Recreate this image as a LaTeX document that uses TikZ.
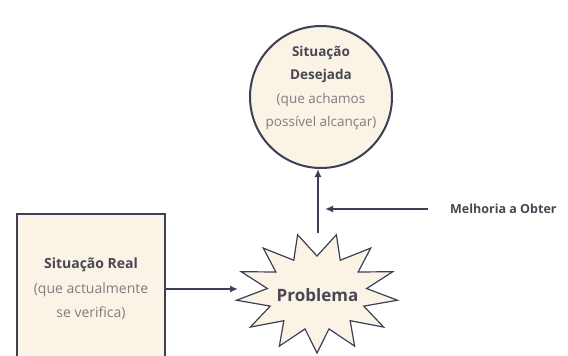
\documentclass[tikz,border=0pt]{standalone}
\usepackage{fontspec}
\setmainfont{Open Sans}
\usetikzlibrary{arrows.meta}
\definecolor{cream}{RGB}{250,243,230}
\definecolor{edge}{RGB}{60,64,84}
\definecolor{ink}{RGB}{72,72,84}
\definecolor{soft}{RGB}{128,124,128}
\tikzset{
  goalnode/.style={circle, draw=edge, line width=2pt, fill=cream, minimum size=142pt, inner sep=0pt},
  goaltext/.style={align=center, text=ink, inner sep=0pt},
  realnode/.style={rectangle, draw=edge, line width=2.5pt, fill=cream, minimum width=148pt, minimum height=150pt, align=center, text=ink},
  starshape/.style={draw=edge, line width=1.2pt, fill=cream, line join=miter},
  arr/.style={draw=edge, line width=2pt, -{Latex[length=8pt,width=7pt]}},
  lbl/.style={text=ink, font=\bfseries\fontsize{12.5}{14}\selectfont, anchor=west, inner sep=0pt}
}
\begin{document}
\begin{tikzpicture}[x=1pt,y=-1pt]
\useasboundingbox (0,0) rectangle (568,356);
\fill[white] (0,0) rectangle (568,356);
\begin{scope}
\clip (0,0) rectangle (568,356);
% desired situation
\node[goalnode] (goal) at (321,97) {};
\node[goaltext, font=\fontsize{13.5}{23.5}\selectfont] (goaltxt) at (321,88)
  {\textbf{Situação}\\\textbf{Desejada}\\{\color{soft}(que achamos}\\{\color{soft}possível alcançar)}};
% real situation
\node[realnode, font=\fontsize{14}{24.5}\selectfont] (real) at (91,289)
  {\textbf{Situação Real}\\{\color{soft}(que actualmente}\\{\color{soft}se verifica)}};
% star
\draw[starshape] plot[samples at={0,...,25}]
  ({317 + (mod(\x,2)==0 ? 81 : 50)*cos(103.846+\x*13.846)},
   {293 - (mod(\x,2)==0 ? 60 : 37)*sin(103.846+\x*13.846)}) -- cycle;
\node[text=ink, font=\bfseries\fontsize{17}{19}\selectfont, inner sep=0pt] (prob) at (317.5,295) {Problema};
\coordinate (starW) at (238,289);
\coordinate (starN) at (318,233);
\coordinate (gainTip) at (325,209);
\node[lbl] (gain) at (450,209) {Melhoria a Obter};
\coordinate (gainStart) at (428,209);
% connectors
\draw[arr] (real.east |- starW) -- (starW);
\draw[arr] (starN) -- (starN |- goal.south);
\draw[arr] (gainStart) -- (gainTip);
\end{scope}
\end{tikzpicture}
\end{document}
